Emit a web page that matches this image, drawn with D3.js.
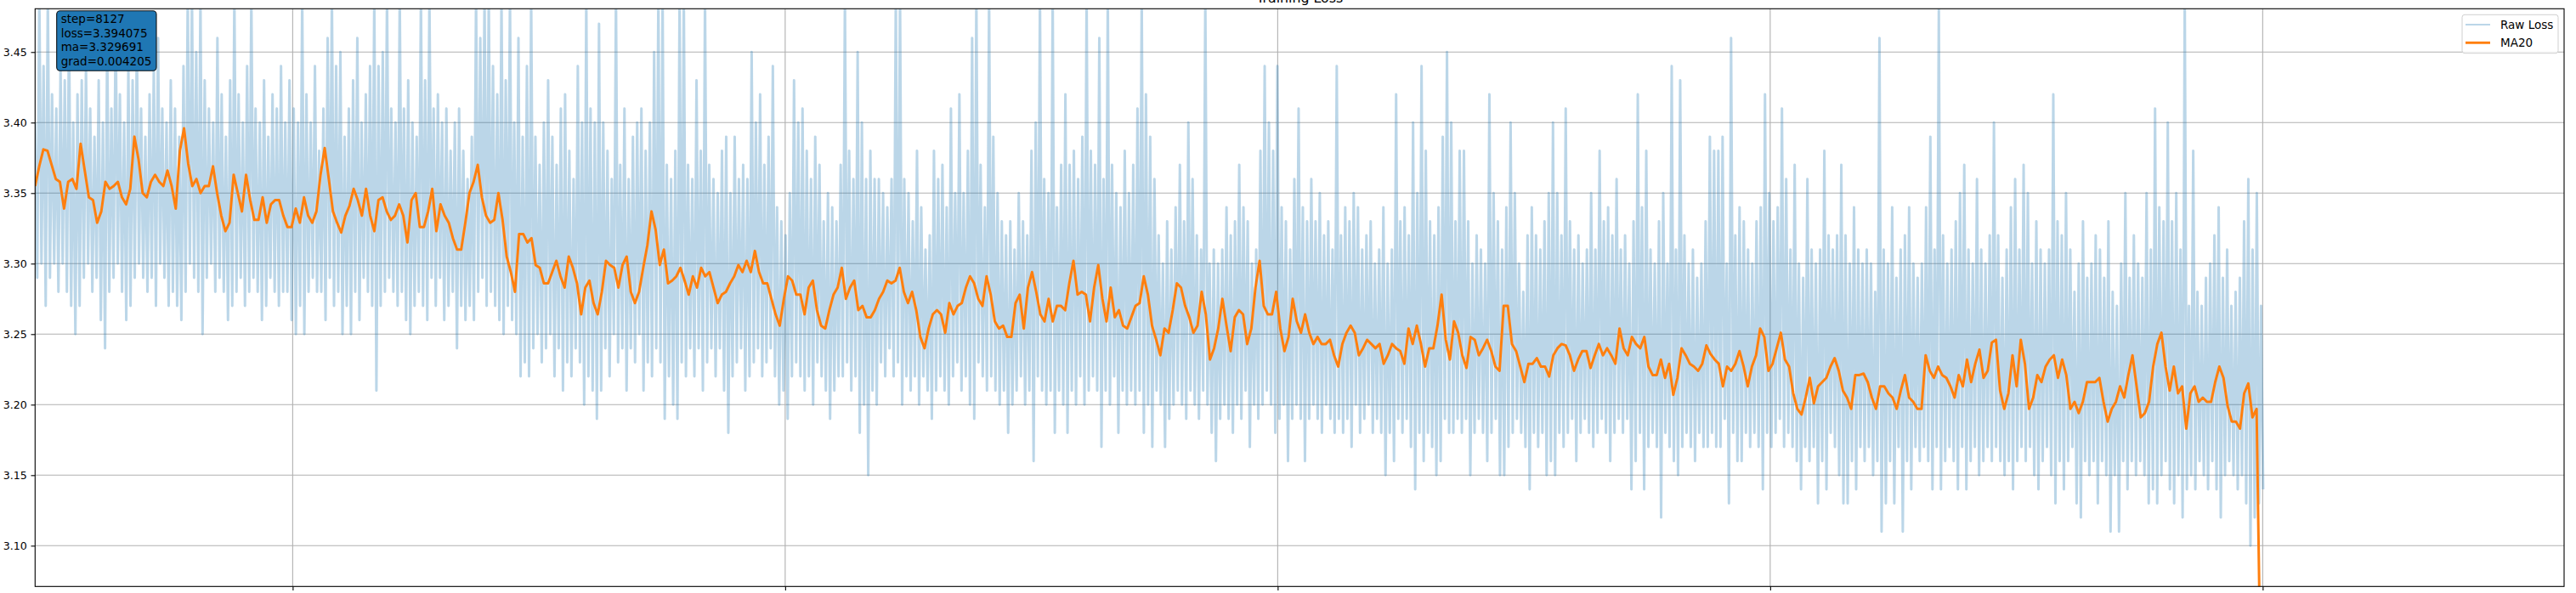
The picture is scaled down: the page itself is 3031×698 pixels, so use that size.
<!DOCTYPE html>
<html>
<head>
<meta charset="utf-8">
<script src="https://cdn.jsdelivr.net/npm/d3@7/dist/d3.min.js"></script>
<style>
html,body{margin:0;padding:0;background:#fff;}
svg{display:block;font-family:"DejaVu Sans",sans-serif;}
</style>
</head>
<body>
<svg id="chart" width="3031" height="698"></svg>
<script>
// ---- data ----
const chartTitle = "Training Loss";
const legendLabels = ["Raw Loss", "MA20"];
const statLines = ["step=8127", "loss=3.394075", "ma=3.329691", "grad=0.004205"];
const yTicks = [3.10, 3.15, 3.20, 3.25, 3.30, 3.35, 3.40, 3.45];
const xTicks = [4000, 5000, 6000, 7000, 8000];
const xLimits = [3477, 8612];
const yLimits = [3.0711, 3.4807];
const dataStartStep = 3477;
const maEndStep = 7996;
const rawEndStep = 8001;

// moving average (MA20), sampled evenly over the data span
const maLoss = [
3.355,3.369,3.381,3.38,3.37,3.36,3.358,3.339,3.358,3.36,3.353,3.385,3.366,3.347,3.345,3.329,3.337,3.358,3.353,3.355,3.358,3.347,3.342,3.353,3.39,3.374,3.35,3.347,3.358,3.363,3.358,3.355,3.366,3.355,3.339,3.38,3.396,3.371,3.355,3.36,3.35,3.355,3.355,3.369,3.35,3.334,3.323,3.329,3.363,3.35,3.337,3.363,3.345,3.331,3.331,3.347,3.329,3.342,3.345,3.345,3.334,3.326,3.326,3.339,3.329,3.347,3.334,
3.329,3.337,3.363,3.382,3.36,3.337,3.329,3.322,3.334,3.341,3.353,3.345,3.334,3.353,3.334,3.323,3.345,3.347,3.337,3.331,3.334,3.342,3.334,3.315,3.345,3.35,3.326,3.326,3.337,3.353,3.323,3.342,3.334,3.329,3.318,3.31,3.31,3.329,3.35,3.358,3.37,3.347,3.334,3.329,3.331,3.35,3.331,3.305,3.294,3.28,3.321,3.321,3.315,3.318,3.299,3.297,3.286,3.286,3.294,3.302,3.291,3.283,3.305,3.297,3.286,3.264,3.283,
3.288,3.272,3.264,3.28,3.302,3.299,3.297,3.283,3.299,3.305,3.28,3.272,3.28,3.297,3.313,3.337,3.324,3.299,3.31,3.286,3.288,3.291,3.297,3.288,3.278,3.291,3.283,3.297,3.291,3.294,3.283,3.272,3.278,3.28,3.286,3.291,3.299,3.294,3.302,3.294,3.309,3.294,3.286,3.286,3.275,3.264,3.256,3.275,3.291,3.288,3.278,3.278,3.264,3.283,3.288,3.267,3.256,3.254,3.267,3.278,3.283,3.297,3.275,3.283,3.288,3.267,3.27,3.262,3.262,
3.267,3.275,3.28,3.288,3.286,3.288,3.297,3.28,3.272,3.28,3.267,3.248,3.24,3.254,3.264,3.267,3.264,3.251,3.272,3.264,3.27,3.272,3.283,3.291,3.286,3.275,3.27,3.291,3.278,3.259,3.254,3.256,3.248,3.248,3.272,3.278,3.254,3.283,3.294,3.28,3.264,3.259,3.275,3.259,3.27,3.27,3.267,3.286,3.302,3.278,3.28,3.278,3.259,3.283,3.299,3.275,3.259,3.283,3.262,3.267,3.256,3.254,3.262,3.27,3.272,3.291,3.278,3.256,
3.246,3.235,3.254,3.251,3.267,3.286,3.283,3.27,3.262,3.251,3.256,3.28,3.264,3.232,3.24,3.254,3.275,3.256,3.238,3.262,3.267,3.264,3.243,3.254,3.283,3.302,3.27,3.264,3.264,3.28,3.254,3.238,3.248,3.275,3.259,3.251,3.264,3.251,3.243,3.248,3.243,3.243,3.246,3.235,3.227,3.243,3.251,3.256,3.251,3.235,3.24,3.246,3.243,3.24,3.243,3.229,3.235,3.243,3.24,3.238,3.229,3.254,3.243,3.256,3.243,3.227,3.24,
3.24,3.256,3.278,3.246,3.232,3.259,3.251,3.235,3.226,3.248,3.246,3.235,3.24,3.246,3.238,3.227,3.224,3.27,3.27,3.243,3.238,3.227,3.216,3.229,3.229,3.233,3.227,3.227,3.22,3.235,3.24,3.243,3.242,3.235,3.224,3.232,3.238,3.238,3.226,3.235,3.243,3.235,3.24,3.235,3.229,3.254,3.24,3.235,3.248,3.243,3.24,3.248,3.227,3.221,3.221,3.232,3.219,3.229,3.207,3.219,3.24,3.235,3.229,3.227,3.224,3.229,3.242,3.236,
3.232,3.229,3.213,3.227,3.224,3.229,3.238,3.227,3.213,3.227,3.235,3.254,3.248,3.224,3.229,3.24,3.251,3.232,3.227,3.208,3.197,3.193,3.205,3.219,3.201,3.213,3.216,3.219,3.227,3.233,3.224,3.21,3.205,3.197,3.221,3.221,3.222,3.216,3.205,3.197,3.213,3.213,3.208,3.205,3.197,3.21,3.221,3.205,3.202,3.197,3.197,3.235,3.224,3.219,3.227,3.221,3.219,3.213,3.205,3.221,3.213,3.232,3.216,3.229,3.239,3.219,3.224,3.244,
3.246,3.21,3.197,3.208,3.235,3.213,3.246,3.229,3.197,3.205,3.221,3.216,3.227,3.232,3.235,3.219,3.232,3.221,3.197,3.202,3.194,3.202,3.216,3.216,3.216,3.219,3.202,3.188,3.197,3.202,3.213,3.205,3.221,3.235,3.213,3.191,3.194,3.202,3.227,3.243,3.251,3.227,3.21,3.227,3.208,3.213,3.183,3.208,3.213,3.202,3.205,3.202,3.202,3.216,3.227,3.219,3.199,3.188,3.188,3.183,3.208,3.215,3.191,3.197,
3.0
];

// raw loss, sampled evenly over the data span (alternating peaks and dips)
const rawLoss = [
3.40,3.29,3.49,3.30,3.44,3.27,3.49,3.29,3.42,3.30,3.41,3.28,3.44,3.30,3.43,3.28,3.47,3.27,3.40,3.25,3.42,3.27,3.43,3.29,3.44,3.30,3.41,3.28,3.39,3.29,3.43,3.26,3.40,3.24,3.46,3.28,3.41,3.29,3.47,3.30,3.42,3.28,3.40,3.26,3.44,3.27,3.43,3.29,3.46,3.30,3.41,3.29,3.39,3.28,3.42,3.29,3.44,3.27,3.46,3.30,3.41,3.29,3.40,3.27,3.43,3.28,3.41,3.27,3.39,3.26,3.44,3.28,3.49,3.30,3.49,3.29,3.45,3.28,3.49,3.25,3.43,3.29,3.41,3.30,3.40,3.28,3.46,3.29,3.42,3.28,3.39,3.26,3.43,3.27,3.49,3.28,3.42,3.29,3.40,3.27,3.44,3.28,3.49,3.29,3.41,3.28,3.40,3.26,3.43,3.27,3.39,3.29,3.42,3.28,3.41,3.27,3.44,3.28,3.40,3.28,3.43,3.26,3.41,3.25,3.40,3.27,3.49,3.25,3.42,3.28,3.40,3.29,3.44,3.28,
3.38,3.28,3.41,3.26,3.46,3.29,3.49,3.27,3.44,3.28,3.45,3.25,3.39,3.27,3.41,3.25,3.43,3.28,3.46,3.26,3.40,3.29,3.42,3.28,3.44,3.27,3.49,3.21,3.44,3.27,3.45,3.28,3.49,3.29,3.41,3.28,3.40,3.27,3.49,3.28,3.41,3.26,3.43,3.25,3.40,3.27,3.39,3.28,3.49,3.27,3.43,3.26,3.49,3.29,3.41,3.27,3.42,3.29,3.40,3.26,3.41,3.27,3.38,3.28,3.40,3.24,3.41,3.27,3.38,3.26,3.36,3.27,3.39,3.26,3.49,3.28,3.46,3.29,3.49,3.27,3.49,3.28,3.44,3.27,3.42,3.26,3.49,3.25,3.43,3.27,3.49,3.26,3.40,3.25,3.46,3.22,3.39,3.23,3.44,3.22,3.49,3.24,3.39,3.25,3.37,3.23,3.40,3.24,3.43,3.25,3.39,3.22,3.37,3.24,3.41,3.21,3.42,3.23,3.38,3.22,3.36,3.24,3.44,3.23,3.40,3.20,3.49,3.22,3.41,3.21,3.40,3.19,
3.47,3.21,3.40,3.24,3.38,3.22,3.36,3.25,3.49,3.23,3.37,3.24,3.41,3.21,3.36,3.24,3.39,3.23,3.40,3.25,3.41,3.21,3.38,3.23,3.40,3.22,3.45,3.24,3.49,3.23,3.49,3.19,3.37,3.22,3.36,3.20,3.38,3.19,3.49,3.23,3.49,3.22,3.37,3.24,3.36,3.22,3.43,3.24,3.38,3.21,3.49,3.23,3.37,3.24,3.36,3.22,3.35,3.24,3.38,3.21,3.39,3.18,3.35,3.22,3.39,3.23,3.36,3.24,3.37,3.21,3.36,3.22,3.45,3.23,3.40,3.24,3.42,3.22,3.37,3.23,3.39,3.24,3.44,3.22,3.34,3.20,3.33,3.21,3.32,3.19,3.35,3.22,3.43,3.23,3.40,3.22,3.41,3.21,3.38,3.22,3.36,3.20,3.39,3.23,3.37,3.22,3.33,3.21,3.35,3.19,3.34,3.21,3.33,3.22,3.37,3.22,3.49,3.23,3.38,3.21,3.36,3.22,3.45,3.18,3.40,3.20,3.36,3.15,3.38,3.21,3.36,3.20,
3.36,3.23,3.35,3.22,3.34,3.24,3.36,3.22,3.49,3.23,3.49,3.20,3.36,3.22,3.35,3.21,3.33,3.22,3.38,3.20,3.34,3.22,3.31,3.21,3.32,3.19,3.38,3.21,3.36,3.22,3.37,3.21,3.34,3.20,3.41,3.22,3.35,3.23,3.42,3.21,3.35,3.22,3.38,3.20,3.46,3.19,3.49,3.23,3.37,3.22,3.34,3.21,3.49,3.22,3.39,3.21,3.35,3.20,3.33,3.21,3.32,3.18,3.33,3.20,3.31,3.21,3.35,3.22,3.33,3.20,3.32,3.21,3.38,3.16,3.40,3.22,3.49,3.21,3.36,3.20,3.35,3.21,3.49,3.18,3.34,3.21,3.37,3.20,3.42,3.18,3.37,3.21,3.38,3.20,3.36,3.22,3.39,3.20,3.49,3.21,3.38,3.22,3.37,3.21,3.46,3.17,3.36,3.21,3.49,3.20,3.37,3.22,3.35,3.18,3.34,3.21,3.38,3.20,3.35,3.21,3.37,3.20,3.41,3.21,3.49,3.18,3.42,3.20,3.39,3.17,3.36,3.21,
3.32,3.20,3.30,3.17,3.33,3.19,3.31,3.20,3.34,3.21,3.37,3.20,3.33,3.19,3.40,3.21,3.36,3.20,3.32,3.19,3.31,3.21,3.49,3.20,3.30,3.18,3.31,3.16,3.30,3.19,3.31,3.20,3.34,3.19,3.32,3.18,3.33,3.20,3.37,3.19,3.34,3.21,3.33,3.17,3.30,3.20,3.31,3.19,3.38,3.20,3.44,3.21,3.40,3.20,3.38,3.18,3.44,3.19,3.34,3.20,3.33,3.16,3.31,3.19,3.36,3.20,3.41,3.19,3.34,3.16,3.33,3.19,3.36,3.20,3.33,3.19,3.35,3.18,3.32,3.20,3.33,3.19,3.31,3.18,3.44,3.19,3.32,3.18,3.34,3.19,3.33,3.17,3.35,3.20,3.34,3.18,3.31,3.19,3.32,3.20,3.33,3.18,3.30,3.19,3.31,3.18,3.34,3.15,3.30,3.18,3.31,3.16,3.42,3.19,3.33,3.18,3.34,3.19,3.32,3.17,3.40,3.14,3.35,3.18,3.44,3.16,3.38,3.18,3.33,3.17,3.32,3.15,
3.34,3.16,3.39,3.19,3.45,3.18,3.40,3.18,3.33,3.19,3.38,3.18,3.38,3.19,3.33,3.15,3.30,3.18,3.32,3.19,3.31,3.18,3.30,3.16,3.42,3.18,3.35,3.19,3.33,3.15,3.31,3.15,3.34,3.17,3.40,3.18,3.35,3.19,3.30,3.18,3.28,3.17,3.32,3.14,3.34,3.18,3.32,3.17,3.31,3.18,3.33,3.15,3.35,3.16,3.40,3.15,3.35,3.18,3.32,3.17,3.41,3.18,3.33,3.19,3.31,3.16,3.32,3.18,3.30,3.19,3.31,3.18,3.35,3.17,3.31,3.18,3.38,3.19,3.33,3.18,3.34,3.16,3.32,3.18,3.36,3.19,3.31,3.18,3.32,3.19,3.30,3.14,3.33,3.16,3.42,3.18,3.34,3.14,3.38,3.17,3.31,3.18,3.30,3.17,3.33,3.12,3.35,3.18,3.30,3.17,3.44,3.16,3.31,3.15,3.43,3.17,3.32,3.18,3.30,3.17,3.31,3.16,3.29,3.18,3.30,3.17,3.33,3.17,3.39,3.18,3.38,3.17,
3.38,3.17,3.39,3.19,3.30,3.13,3.46,3.18,3.32,3.16,3.34,3.16,3.33,3.18,3.31,3.17,3.30,3.18,3.33,3.17,3.34,3.14,3.42,3.18,3.35,3.17,3.33,3.18,3.34,3.19,3.41,3.17,3.36,3.18,3.31,3.17,3.37,3.16,3.30,3.14,3.29,3.17,3.36,3.16,3.31,3.17,3.30,3.13,3.31,3.16,3.38,3.14,3.32,3.18,3.31,3.17,3.32,3.15,3.37,3.13,3.32,3.13,3.30,3.16,3.34,3.14,3.31,3.17,3.30,3.16,3.31,3.17,3.30,3.15,3.28,3.16,3.46,3.11,3.31,3.13,3.30,3.16,3.34,3.13,3.29,3.17,3.31,3.11,3.32,3.16,3.34,3.14,3.30,3.17,3.29,3.16,3.30,3.17,3.34,3.16,3.39,3.14,3.31,3.17,3.48,3.14,3.32,3.16,3.30,3.17,3.31,3.16,3.33,3.14,3.35,3.17,3.37,3.14,3.31,3.16,3.30,3.17,3.36,3.15,3.31,3.16,3.30,3.17,3.32,3.16,3.40,3.17,
3.32,3.16,3.29,3.15,3.31,3.16,3.34,3.14,3.36,3.16,3.31,3.17,3.37,3.16,3.35,3.17,3.30,3.15,3.33,3.14,3.31,3.16,3.30,3.17,3.31,3.15,3.42,3.13,3.33,3.16,3.32,3.14,3.35,3.16,3.31,3.17,3.28,3.13,3.30,3.12,3.33,3.16,3.29,3.15,3.30,3.16,3.32,3.13,3.31,3.16,3.29,3.15,3.33,3.11,3.28,3.15,3.27,3.11,3.30,3.16,3.35,3.14,3.29,3.16,3.32,3.15,3.30,3.16,3.29,3.15,3.35,3.13,3.31,3.14,3.41,3.13,3.34,3.15,3.33,3.16,3.40,3.14,3.33,3.13,3.35,3.15,3.31,3.12,3.49,3.14,3.27,3.15,3.38,3.14,3.28,3.16,3.27,3.15,3.29,3.14,3.30,3.16,3.32,3.14,3.34,3.12,3.29,3.15,3.31,3.16,3.27,3.15,3.28,3.14,3.29,3.15,3.33,3.13,3.36,3.10,3.31,3.12,3.35,3.13,3.27,3.14
];

// ---- layout ----
const W = 3031, H = 698;
const plot = {left: 41.3, right: 3017, top: 10.3, bottom: 690.3};

const svg = d3.select("#chart");
const x = d3.scaleLinear().domain(xLimits).range([plot.left, plot.right]);
const y = d3.scaleLinear().domain(yLimits).range([plot.bottom, plot.top]);

const stepAt = (i, n, end) => dataStartStep + i * (end - dataStartStep) / (n - 1);
const maData = maLoss.map((v, i) => ({step: stepAt(i, maLoss.length, maEndStep), v}));
const rawData = rawLoss.map((v, i) => ({step: stepAt(i, rawLoss.length, rawEndStep), v}));

svg.append("defs").append("clipPath").attr("id", "clip")
  .append("rect")
  .attr("x", plot.left).attr("y", plot.top)
  .attr("width", plot.right - plot.left).attr("height", plot.bottom - plot.top);

// grid
const grid = svg.append("g").attr("stroke", "#b0b0b0").attr("stroke-width", 1.1);
grid.selectAll("line.h").data(yTicks).join("line")
  .attr("x1", plot.left).attr("x2", plot.right)
  .attr("y1", d => y(d)).attr("y2", d => y(d));
grid.selectAll("line.v").data(xTicks).join("line")
  .attr("y1", plot.top).attr("y2", plot.bottom)
  .attr("x1", d => x(d)).attr("x2", d => x(d));

// series
const line = d3.line().x(d => x(d.step)).y(d => y(d.v));
const series = svg.append("g").attr("clip-path", "url(#clip)");
series.append("path").datum(rawData)
  .attr("d", line).attr("fill", "none")
  .attr("stroke", "#1f77b4").attr("stroke-opacity", 0.3)
  .attr("stroke-width", 3.0).attr("stroke-linejoin", "round");
series.append("path").datum(maData)
  .attr("d", line).attr("fill", "none")
  .attr("stroke", "#ff7f0e").attr("stroke-width", 3.0)
  .attr("stroke-linejoin", "round").attr("stroke-linecap", "butt");

// axes
const yAxis = d3.axisLeft(y).tickValues(yTicks).tickFormat(d3.format(".2f"))
  .tickSize(4.8).tickPadding(4.8);
const gy = svg.append("g").attr("transform", `translate(${plot.left},0)`).call(yAxis);
gy.select(".domain").remove();
gy.selectAll("text").attr("font-family", "DejaVu Sans").attr("font-size", 12.6).attr("fill", "#000");
gy.selectAll("line").attr("stroke", "#000").attr("stroke-width", 1.1);

const xAxis = d3.axisBottom(x).tickValues(xTicks).tickFormat("").tickSize(4.8);
const gx = svg.append("g").attr("transform", `translate(0,${plot.bottom})`).call(xAxis);
gx.select(".domain").remove();
gx.selectAll("line").attr("stroke", "#000").attr("stroke-width", 1.1);

// spines
svg.append("rect")
  .attr("x", plot.left).attr("y", plot.top)
  .attr("width", plot.right - plot.left).attr("height", plot.bottom - plot.top)
  .attr("fill", "none").attr("stroke", "#000").attr("stroke-width", 1.1);

// title (the reference shows it clipped by the top edge)
svg.append("text").attr("x", (plot.left + plot.right) / 2).attr("y", 2.5)
  .attr("text-anchor", "middle").attr("font-size", 15.8).attr("fill", "#000")
  .text(chartTitle);

// stats box
const sb = svg.append("g");
sb.append("rect").attr("x", 66.7).attr("y", 12.7).attr("width", 117.3).attr("height", 70.6)
  .attr("rx", 4).attr("fill", "#1f77b4").attr("stroke", "#111").attr("stroke-width", 1.1);
sb.selectAll("text").data(statLines).join("text")
  .attr("x", 71.7).attr("y", (d, i) => 26.9 + i * 16.7)
  .attr("font-size", 13.5).attr("fill", "#000").text(d => d);

// legend
const lg = svg.append("g");
lg.append("rect").attr("x", 2897).attr("y", 17.3).attr("width", 113).attr("height", 45.4)
  .attr("rx", 3).attr("fill", "#fff").attr("fill-opacity", 0.8)
  .attr("stroke", "#d0d0d0").attr("stroke-width", 1);
const legendStyles = [
  {color: "#1f77b4", opacity: 0.3, width: 2.0},
  {color: "#ff7f0e", opacity: 1, width: 2.9}
];
legendLabels.forEach((lab, i) => {
  const cy = 29 + i * 21.3;
  lg.append("line").attr("x1", 2901).attr("x2", 2930).attr("y1", cy).attr("y2", cy)
    .attr("stroke", legendStyles[i].color).attr("stroke-opacity", legendStyles[i].opacity)
    .attr("stroke-width", legendStyles[i].width);
  lg.append("text").attr("x", 2942).attr("y", cy + 4.9)
    .attr("font-size", 13.5).attr("fill", "#000").text(lab);
});
</script>
</body>
</html>
